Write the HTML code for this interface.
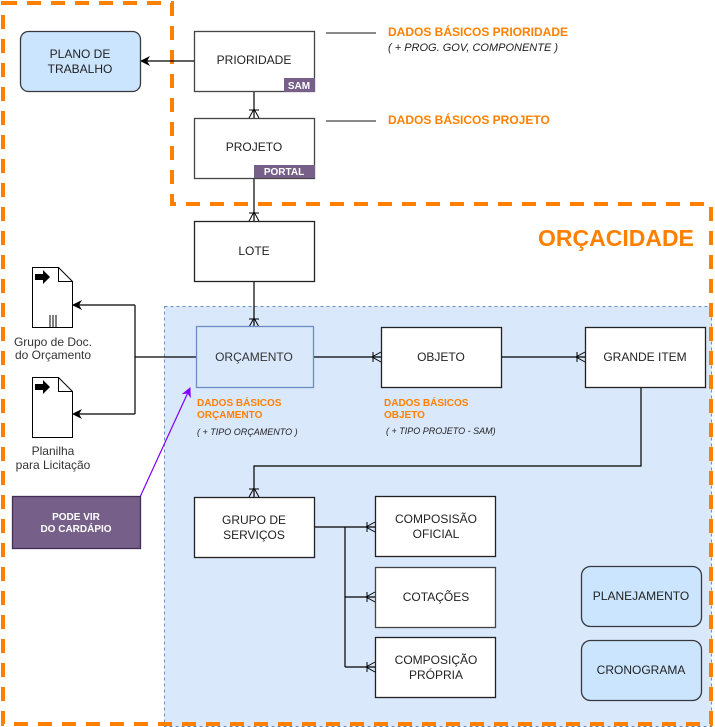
<!DOCTYPE html>
<html><head><meta charset="utf-8"><style>
body{margin:0;background:#fff;}
svg{display:block;font-family:"Liberation Sans",sans-serif;}
</style></head><body>
<svg width="715" height="727" viewBox="0 0 715 727" xmlns="http://www.w3.org/2000/svg">
<defs>
<marker id="ar" markerWidth="10" markerHeight="10" refX="9" refY="5" orient="auto" markerUnits="userSpaceOnUse"><path d="M0,0 L10,5 L0,10 L3,5 Z" fill="#000"/></marker>
<marker id="arp" markerWidth="10" markerHeight="10" refX="9" refY="5" orient="auto" markerUnits="userSpaceOnUse"><path d="M0,0 L10,5 L0,10 L3,5 Z" fill="#7f00ff"/></marker>
<marker id="crow" markerWidth="12" markerHeight="12" refX="11" refY="6" orient="auto" markerUnits="userSpaceOnUse"><path d="M11,1 L2,6 L11,11 M11,6 L0,6 M3,1 L3,11" stroke="#000" fill="none" stroke-width="1"/></marker>
</defs>
<rect x="164.5" y="306.5" width="547" height="420" fill="#dae8fc" stroke="#6c8ebf" stroke-dasharray="3,3"/>
<path d="M3,3 L172,3 L172,204 L711,204 L711,724 L3,724 Z" fill="none" stroke="#ff8000" stroke-width="4" stroke-dasharray="14,10"/>
<text x="538" y="246" font-size="23" font-weight="bold" fill="#ff8000">ORÇACIDADE</text>

<g stroke="#000" stroke-width="1.2" fill="none">
<line x1="194" y1="61" x2="141" y2="61" marker-end="url(#ar)"/>
<line x1="254" y1="91" x2="254" y2="118" marker-end="url(#crow)"/>
<line x1="254" y1="178" x2="254" y2="221" marker-end="url(#crow)"/>
<line x1="254" y1="281" x2="254" y2="327" marker-end="url(#crow)"/>
<line x1="196" y1="357" x2="135" y2="357"/>
<path d="M135,305 L135,414"/>
<line x1="135" y1="305" x2="73" y2="305" marker-end="url(#ar)"/>
<line x1="135" y1="414" x2="73" y2="414" marker-end="url(#ar)"/>
<line x1="313" y1="357" x2="381" y2="357" marker-end="url(#crow)"/>
<line x1="501" y1="357" x2="585" y2="357" marker-end="url(#crow)"/>
<path d="M641,387 L641,466 L254,466 L254,497" marker-end="url(#crow)"/>
<line x1="314" y1="527" x2="375" y2="527" marker-end="url(#crow)"/>
<path d="M345,527 L345,667"/>
<line x1="345" y1="597" x2="375" y2="597" marker-end="url(#crow)"/>
<line x1="345" y1="667" x2="375" y2="667" marker-end="url(#crow)"/>
<line x1="326" y1="33" x2="376" y2="33" stroke="#444"/>
<line x1="326" y1="121" x2="376" y2="121" stroke="#444"/>
</g>
<line x1="140" y1="497" x2="190" y2="388" stroke="#7f00ff" stroke-width="1.2" marker-end="url(#arp)"/>

<g font-size="12" fill="#000" text-anchor="middle" stroke-width="1.3">
<rect x="20.5" y="31.5" width="120" height="60" rx="8" fill="#cce5ff" stroke="#36393d"/>
<text x="80" y="58" fill="#222">PLANO DE</text><text x="80" y="73" fill="#222">TRABALHO</text>

<rect x="194.5" y="31.5" width="120" height="60" fill="#fff" stroke="#444"/>
<text x="254" y="64" fill="#222">PRIORIDADE</text>
<rect x="284" y="78" width="31" height="14" fill="#76608a"/>
<text x="299" y="89" font-size="10" font-weight="bold" fill="#fff">SAM</text>

<rect x="194.5" y="118.5" width="120" height="60" fill="#fff" stroke="#444"/>
<text x="254" y="151" fill="#222">PROJETO</text>
<rect x="254" y="165" width="61" height="13" fill="#76608a"/>
<text x="284" y="175" font-size="10" font-weight="bold" fill="#fff">PORTAL</text>

<rect x="194.5" y="221.5" width="120" height="60" fill="#fff" stroke="#222"/>
<text x="254" y="255" fill="#222">LOTE</text>

<rect x="196.5" y="326.5" width="117" height="61" fill="#dae8fc" stroke="#6c8ebf"/>
<text x="254" y="361" fill="#333">ORÇAMENTO</text>

<rect x="381.5" y="327.5" width="120" height="60" fill="#fff" stroke="#222"/>
<text x="441" y="361" fill="#222">OBJETO</text>
<rect x="585.5" y="327.5" width="120" height="60" fill="#fff" stroke="#222"/>
<text x="645" y="361" fill="#222">GRANDE ITEM</text>

<rect x="194.5" y="497.5" width="120" height="60" fill="#fff" stroke="#222"/>
<text x="254" y="524" fill="#222">GRUPO DE</text><text x="254" y="539" fill="#222">SERVIÇOS</text>

<rect x="375.5" y="496.5" width="120" height="60" fill="#fff" stroke="#222"/>
<text x="436" y="523" fill="#222">COMPOSISÃO</text><text x="436" y="538" fill="#222">OFICIAL</text>
<rect x="375.5" y="567.5" width="120" height="60" fill="#fff" stroke="#444"/>
<text x="436" y="601" fill="#222">COTAÇÕES</text>
<rect x="375.5" y="637.5" width="120" height="60" fill="#fff" stroke="#222"/>
<text x="436" y="664" fill="#222">COMPOSIÇÃO</text><text x="436" y="679" fill="#222">PRÓPRIA</text>

<rect x="581.5" y="566.5" width="120" height="60" rx="9" fill="#cce5ff" stroke="#36393d"/>
<text x="641" y="600" fill="#222">PLANEJAMENTO</text>
<rect x="581.5" y="640.5" width="120" height="60" rx="9" fill="#cce5ff" stroke="#36393d"/>
<text x="641" y="674" fill="#222">CRONOGRAMA</text>

<rect x="12.5" y="496.5" width="128" height="52" fill="#76608a" stroke="#432d57"/>
<text x="76" y="520" font-size="10" font-weight="bold" fill="#fff">PODE VIR</text><text x="76" y="532" font-size="10" font-weight="bold" fill="#fff">DO CARDÁPIO</text>
</g>

<g stroke="#000" fill="#fff" stroke-width="1">
<path d="M32.5,267.5 L58.5,267.5 L72.5,281.5 L72.5,327.5 L32.5,327.5 Z"/>
<path d="M58.5,267.5 L58.5,281.5 L72.5,281.5" fill="none"/>
<path d="M50,315 V327 M53,315 V327 M56,315 V327" fill="none"/>
<path d="M32.5,377.5 L58.5,377.5 L72.5,391.5 L72.5,437.5 L32.5,437.5 Z"/>
<path d="M58.5,377.5 L58.5,391.5 L72.5,391.5" fill="none"/>
</g>
<path d="M35,274 H43 V270 L50,277 L43,284 V280 H35 Z" fill="#000"/>
<path d="M35,384 H43 V380 L50,387 L43,394 V390 H35 Z" fill="#000"/>
<g font-size="12" fill="#333" text-anchor="middle">
<text x="53" y="346">Grupo de Doc.</text><text x="53" y="359">do Orçamento</text>
<text x="53" y="455">Planilha</text><text x="53" y="469">para Licitação</text>
</g>

<g font-weight="bold" fill="#ff8000">
<text x="388" y="36" font-size="12">DADOS BÁSICOS PRIORIDADE</text>
<text x="388" y="124" font-size="12">DADOS BÁSICOS PROJETO</text>
<text x="197" y="406" font-size="10">DADOS BÁSICOS</text><text x="197" y="418" font-size="10">ORÇAMENTO</text>
<text x="384" y="406" font-size="10">DADOS BÁSICOS</text><text x="384" y="418" font-size="10">OBJETO</text>
</g>
<g font-style="italic" fill="#222">
<text x="388" y="51" font-size="11">( + PROG. GOV,  COMPONENTE )</text>
<text x="197" y="435" font-size="9">( + TIPO ORÇAMENTO )</text>
<text x="386" y="434" font-size="9">( + TIPO PROJETO - SAM)</text>
</g>
</svg>
</body></html>
